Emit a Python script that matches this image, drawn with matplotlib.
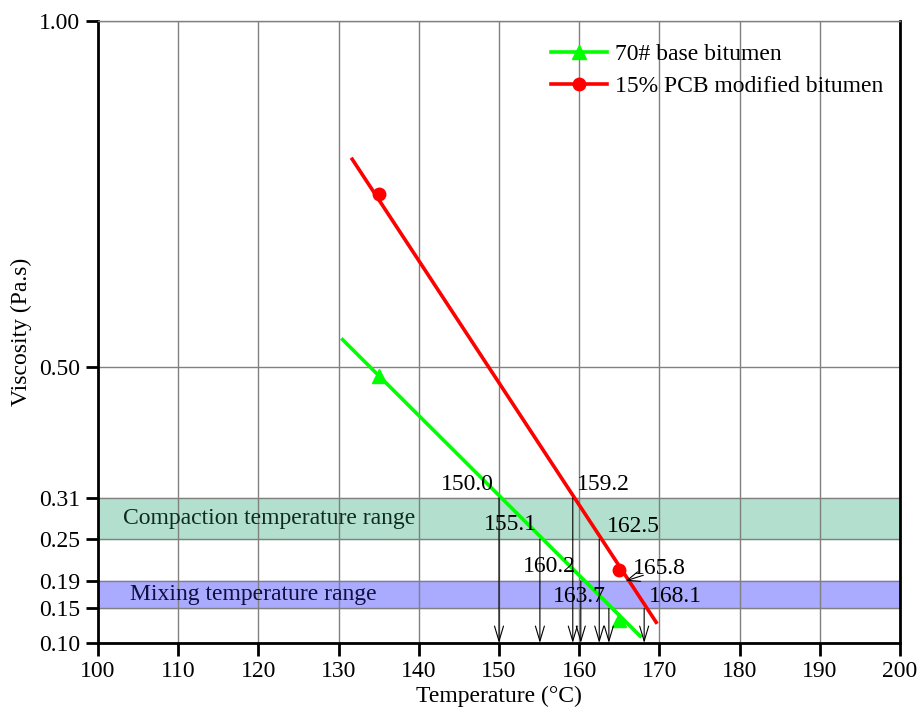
import matplotlib
matplotlib.use("Agg")
import matplotlib.pyplot as plt

# measured viscosity points
temp_pts = [135, 165]
base_visc = [0.486, 0.134]
pcb_visc = [0.750, 0.205]

# fitted line ends
base_fit_t = [130.5, 167.6]
base_fit_v = [0.539, 0.110]
pcb_fit_t = [131.7, 169.6]
pcb_fit_v = [0.800, 0.130]

# viscosity ranges (Pa.s)
compaction_range = (0.25, 0.31)
mixing_range = (0.15, 0.19)

# temperatures where fits cross range limits
cross_t = [150.0, 155.1, 159.2, 160.2, 162.5, 163.7, 165.8, 168.1]
cross_v = [0.31, 0.25, 0.31, 0.19, 0.25, 0.15, 0.19, 0.15]

y_ticks = [0.10, 0.15, 0.19, 0.25, 0.31, 0.50, 1.00]
x_ticks = list(range(100, 201, 10))

# label placement: (dx, dy, ha, va) relative to the crossing point
label_layout = [
    (-0.6, 0.004, "right", "bottom"),
    (-0.4, 0.021, "right", "center"),
    (0.5, 0.004, "left", "bottom"),
    (-0.6, 0.021, "right", "center"),
    (1.0, 0.018, "left", "center"),
    (-0.4, 0.018, "right", "center"),
    (0.9, 0.018, "left", "center"),
    (0.6, 0.018, "left", "center"),
]

FS = 17
plt.rcParams["font.family"] = ["Liberation Serif", "DejaVu Serif"]
plt.rcParams["font.size"] = FS

fig = plt.figure(figsize=(9.21, 7.12), dpi=100)
ax = fig.add_axes([0.1064, 0.0969, 0.8708, 0.8736])

ax.axhspan(*compaction_range, color="#b3dfcf", zorder=0)
ax.axhspan(*mixing_range, color="#aaaaff", zorder=0)

ax.set_xticks(x_ticks)
ax.set_yticks(y_ticks)
ax.set_yticklabels([f"{v:.2f}" for v in y_ticks])
ax.grid(True, color="#808080", lw=1, zorder=1)
ax.set_axisbelow(True)

ax.text(103.1, sum(compaction_range) / 2, "Compaction temperature range",
        va="center", ha="left", color="#0d2b20", fontsize=FS, zorder=3)
ax.text(104.0, sum(mixing_range) / 2, "Mixing temperature range",
        va="center", ha="left", color="#0e0e40", fontsize=FS, zorder=3)

ax.plot(base_fit_t, base_fit_v, color="#00ff00", lw=2.6, zorder=4)
ax.plot(pcb_fit_t, pcb_fit_v, color="#ff0000", lw=2.6, zorder=4)
ax.plot(temp_pts, base_visc, ls="none", marker="^", ms=10, color="#00ff00", zorder=5)
ax.plot(temp_pts, pcb_visc, ls="none", marker="o", ms=9, color="#ff0000", zorder=5)

# legend handles
ax.plot([], [], color="#00ff00", lw=2.6, marker="^", ms=10, label="70# base bitumen")
ax.plot([], [], color="#ff0000", lw=2.6, marker="o", ms=9, label="15% PCB modified bitumen")
ax.legend(loc="upper right", bbox_to_anchor=(1.005, 0.998), frameon=False,
          fontsize=FS, handlelength=2.4, handletextpad=0.3, labelspacing=0.45)

y_floor = y_ticks[0]
for t, v, (dx, dy, ha, va) in zip(cross_t, cross_v, label_layout):
    label = f"{t:.1f}"
    if t == 165.8:
        # this one points at the crossing from its label
        ax.annotate("", xy=(t, v), xytext=(t + 2.2, v + 0.008),
                    arrowprops=dict(arrowstyle="->,head_length=0.5,head_width=0.2",
                                    lw=0.8, color="black", mutation_scale=18,
                                    shrinkA=0, shrinkB=0), zorder=6)
    else:
        ax.annotate("", xy=(t, y_floor), xytext=(t, v),
                    arrowprops=dict(arrowstyle="->,head_length=0.6,head_width=0.18",
                                    lw=0.8, color="black", mutation_scale=18,
                                    shrinkA=0, shrinkB=0),
                    zorder=6)
    ax.text(t + dx, v + dy, label, ha=ha, va=va, fontsize=FS, zorder=7)

ax.set_xlim(100, 200)
ax.set_ylim(0.10, 1.00)
ax.set_xlabel("Temperature (°C)", fontsize=FS, labelpad=3)
ax.set_ylabel("Viscosity (Pa.s)", fontsize=FS, labelpad=5)

for side in ("left", "bottom", "right"):
    ax.spines[side].set_linewidth(2)
    ax.spines[side].set_color("black")
ax.spines["top"].set_linewidth(1)
ax.spines["top"].set_color("#808080")
ax.tick_params(direction="out", length=9, width=2, pad=4)

fig.savefig("out.png", dpi=100)
